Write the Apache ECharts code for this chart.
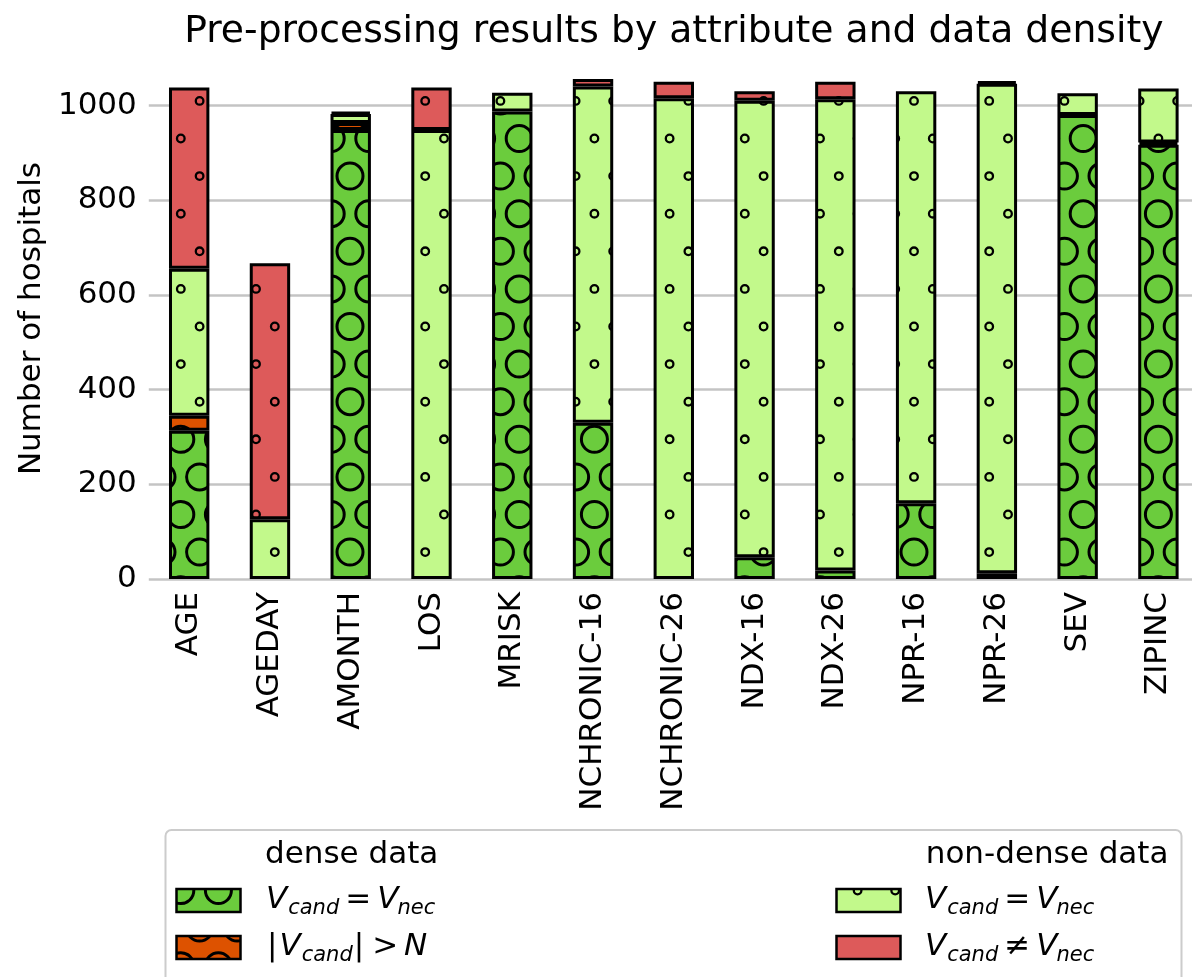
<!DOCTYPE html>
<html>
<head>
<meta charset="utf-8">
<script src="https://cdn.jsdelivr.net/npm/echarts@6/dist/echarts.min.js"></script>
<style>
  html, body { margin: 0; padding: 0; background: #fff; }
  #chart { position: absolute; left: 0; top: 0; width: 1192px; height: 977px; }
</style>
</head>
<body>
<div id="chart"></div>
<script>
// ---- data ----
const categories = ['AGE', 'AGEDAY', 'AMONTH', 'LOS', 'MRISK', 'NCHRONIC-16', 'NCHRONIC-26',
                    'NDX-16', 'NDX-26', 'NPR-16', 'NPR-26', 'SEV', 'ZIPINC'];
// dense data, V_cand = V_nec
const denseEqual   = [313, 0, 948, 0, 987, 330, 0, 46, 18, 160, 12, 980, 917];
// dense data, |V_cand| > N
const denseOverN   = [32, 0, 15, 0, 0, 0, 0, 0, 0, 0, 0, 0, 5];
// non-dense data, V_cand = V_nec
const sparseEqual  = [310, 126, 19, 948, 40, 710, 1015, 964, 995, 870, 1034, 46, 114];
// non-dense data, V_cand != V_nec
const sparseNotEq  = [383, 541, 4, 90, 0, 16, 35, 20, 37, 0, 5, 0, 0];
const yTicks = [0, 200, 400, 600, 800, 1000];

const FONT = '"DejaVu Sans", "Liberation Sans", sans-serif';
const C_DARK = '#6bcc3d', C_ORANGE = '#dd5200', C_LIGHT = '#c2f98b', C_RED = '#dd5a5a';

// ---- hatch tiles: circles on a staggered lattice anchored to the page origin ----
const P = 37.6;
function hatchTile(bg, radius, lw) {
  const W = Math.round(P * 5), H = Math.round(P * 10);
  const c = document.createElement('canvas');
  c.width = W; c.height = H;
  const g = c.getContext('2d');
  g.fillStyle = bg;
  g.fillRect(0, 0, W, H);
  g.strokeStyle = '#000';
  g.lineWidth = lw;
  for (let r = -1; r <= 11; r++) {
    const y = 25.7 + r * P;
    const x0 = (((r % 2) + 2) % 2 === 0) ? 11.6 : 30.4;
    for (let k = -1; k <= 6; k++) {
      g.beginPath();
      g.arc(x0 + k * P, y, radius, 0, Math.PI * 2);
      g.stroke();
    }
  }
  return c;
}
const fillDark   = { image: hatchTile(C_DARK, 13, 3), repeat: 'repeat' };
const fillOrange = { image: hatchTile(C_ORANGE, 13, 3), repeat: 'repeat' };
const fillLight  = { image: hatchTile(C_LIGHT, 3.8, 2.3), repeat: 'repeat' };
const fillRed    = { image: hatchTile(C_RED, 3.8, 2.3), repeat: 'repeat' };

// ---- math-style legend labels built from text runs ----
const LEG = 31, SUB = 21;
const mctx = document.createElement('canvas').getContext('2d');
function runWidth(t, size, italic) {
  mctx.font = (italic ? 'italic ' : '') + size + 'px ' + FONT;
  return mctx.measureText(t).width;
}
function mathLabel(x, baseline, runs) {
  const els = [];
  let cx = x;
  runs.forEach(r => {
    if (r.gap) { cx += r.gap; return; }
    const size = r.sub ? SUB : LEG;
    const base = baseline + (r.sub ? 5 : 0);
    els.push({
      type: 'text', x: cx, y: base - 0.346 * size, silent: true,
      style: { text: r.t, fill: '#000', font: (r.it ? 'italic ' : '') + size + 'px ' + FONT,
               textAlign: 'left', textVerticalAlign: 'middle' }
    });
    cx += runWidth(r.t, size, r.it) + (r.kern || 0);
  });
  return els;
}
const eqRuns = [{ t: 'V', it: true, kern: 1 }, { t: 'cand', it: true, sub: true }, { gap: 6 },
                { t: '=', it: false }, { gap: 6 }, { t: 'V', it: true, kern: -1 }, { t: 'nec', it: true, sub: true }];
const neqRuns = [{ t: 'V', it: true, kern: 1 }, { t: 'cand', it: true, sub: true }, { gap: 6 },
                 { t: '\u2260', it: false }, { gap: 6 }, { t: 'V', it: true, kern: -1 }, { t: 'nec', it: true, sub: true }];
const gtRuns = [{ t: '|', it: false, kern: 2 }, { t: 'V', it: true, kern: 1 }, { t: 'cand', it: true, sub: true }, { gap: 1 },
                { t: '|', it: false }, { gap: 8 }, { t: '>', it: false }, { gap: 6 }, { t: 'N', it: true }];

function patch(x, y, fill) {
  return { type: 'rect', silent: true, shape: { x: x, y: y, width: 64, height: 23 },
           style: { fill: fill, stroke: '#000', lineWidth: 2.5 } };
}
function plainText(x, baseline, t, size, align) {
  return { type: 'text', x: x, y: baseline - 0.346 * size, silent: true,
           style: { text: t, fill: '#000', font: size + 'px ' + FONT, textAlign: align, textVerticalAlign: 'middle' } };
}

const graphics = [
  plainText(673.8, 45, 'Pre-processing results by attribute and data density', 37.7, 'center'),
  { type: 'rect', silent: true, shape: { x: 165.5, y: 830, width: 1016, height: 180, r: 6 },
    style: { fill: 'rgba(255,255,255,0.8)', stroke: '#cccccc', lineWidth: 2 } },
  plainText(265, 866, 'dense data', LEG, 'left'),
  plainText(1168.5, 866, 'non-dense data', LEG, 'right'),
  patch(176.5, 889, fillDark),
  patch(176.5, 936, fillOrange),
  patch(836.5, 889, fillLight),
  patch(836.5, 936, fillRed)
].concat(mathLabel(266, 911, eqRuns))
 .concat(mathLabel(267, 958, gtRuns))
 .concat(mathLabel(925, 911, eqRuns))
 .concat(mathLabel(925, 958, neqRuns));

// empty segments are left out so that no flat outline is stroked for them
function barSeries(name, data, fill) {
  return {
    name: name, type: 'bar', stack: 'hospitals', barWidth: '50%',
    data: data.map(v => (v === 0 ? '-' : v)),
    itemStyle: { color: fill, borderColor: '#000', borderWidth: 3 },
    emphasis: { disabled: true }, silent: true, clip: false
  };
}

const chart = echarts.init(document.getElementById('chart'), null, { renderer: 'canvas' });
chart.setOption({
  backgroundColor: '#fff',
  animation: false,
  grid: { left: 148.8, top: 58.1, width: 1050, bottom: 398, containLabel: false, outerBoundsMode: 'none' },
  xAxis: {
    type: 'category', data: categories,
    axisLine: { show: false }, axisTick: { show: false },
    axisLabel: { rotate: 90, margin: 13, fontSize: 31, fontFamily: FONT, color: '#000', interval: 0 }
  },
  yAxis: {
    type: 'value', min: yTicks[0], max: 1100, interval: yTicks[1] - yTicks[0],
    name: 'Number of hospitals', nameLocation: 'middle', nameGap: 91, nameRotate: 90,
    nameTextStyle: { fontSize: 31, fontFamily: FONT, color: '#000' },
    axisLine: { show: false }, axisTick: { show: false },
    axisLabel: { margin: 12, fontSize: 31, fontFamily: FONT, color: '#000', showMaxLabel: false,
                 formatter: v => String(v) },
    splitLine: { show: true, showMaxLine: false, lineStyle: { color: '#c4c4c4', width: 2.5 } }
  },
  series: [
    barSeries('dense V_cand = V_nec', denseEqual, fillDark),
    barSeries('dense |V_cand| > N', denseOverN, fillOrange),
    barSeries('non-dense V_cand = V_nec', sparseEqual, fillLight),
    barSeries('non-dense V_cand != V_nec', sparseNotEq, fillRed)
  ],
  graphic: graphics
});
</script>
</body>
</html>
